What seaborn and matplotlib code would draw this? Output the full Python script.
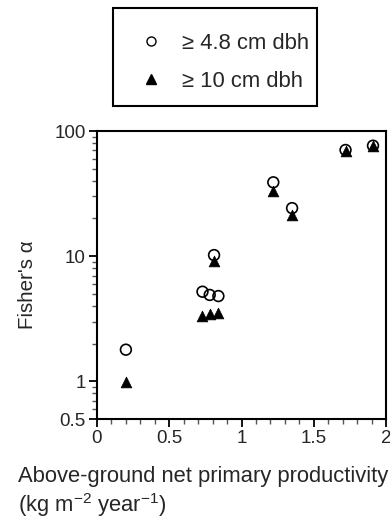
import matplotlib
matplotlib.use("Agg")
import matplotlib.pyplot as plt
from matplotlib.lines import Line2D
from matplotlib.patches import Rectangle
from matplotlib.ticker import NullFormatter
import seaborn as sns
import pandas as pd

# above-ground NPP (kg m-2 yr-1) and Fisher's alpha
npp = [0.20, 0.73, 0.78, 0.84, 0.81, 1.22, 1.35, 1.72, 1.91]
alpha_48 = [1.79, 5.2, 4.9, 4.8, 10.2, 38.9, 24.2, 70.5, 76.3]
alpha_10 = [0.98, 3.35, 3.48, 3.54, 9.1, 33.0, 21.5, 69.5, 75.5]
series_labels = ["\u2265 4.8 cm dbh", "\u2265 10 cm dbh"]

df = pd.DataFrame({
    "npp": npp * 2,
    "alpha": alpha_48 + alpha_10,
    "size": [series_labels[0]] * len(npp) + [series_labels[1]] * len(npp),
})

sns.set_style("ticks")
plt.rcParams["font.family"] = ["Liberation Sans", "DejaVu Sans"]
plt.rcParams["mathtext.fontset"] = "custom"
plt.rcParams["mathtext.rm"] = "Liberation Sans"
plt.rcParams["mathtext.it"] = "Liberation Sans"

fig = plt.figure(figsize=(3.9, 5.21), dpi=100)
ax = fig.add_axes([97 / 390, 1 - 419 / 521, 289 / 390, 288 / 521])

sns.scatterplot(data=df[df["size"] == series_labels[0]], x="npp", y="alpha",
                marker="o", s=60, facecolor="none", edgecolor="black",
                linewidth=1.2, ax=ax, legend=False, zorder=3)
sns.scatterplot(data=df[df["size"] == series_labels[1]], x="npp", y="alpha",
                marker="^", s=60, color="black", edgecolor="black",
                linewidth=0.5, ax=ax, legend=False, zorder=4)

ax.set_yscale("log")
ax.set_ylim(0.5, 100)
ax.set_xlim(0, 2)
ax.set_yticks([0.5, 1, 10, 100])
ax.set_yticklabels(["0.5", "1", "10", "100"])
minor_y = [0.6, 0.7, 0.8, 0.9] + [k for k in range(2, 10)] + [10 * k for k in range(2, 10)]
ax.set_yticks(minor_y, minor=True)
ax.yaxis.set_minor_formatter(NullFormatter())
ax.set_xticks([0, 0.5, 1, 1.5, 2])
ax.set_xticklabels(["0", "0.5", "1", "1.5", "2"])
ax.set_xticks([i / 10 for i in range(21)], minor=True)
ax.tick_params(axis="both", which="both", bottom=True, left=True,
               top=False, right=False, direction="out")
ax.tick_params(axis="both", which="major", labelsize=13.5, length=6, width=1.3,
               color="black", pad=2)
ax.tick_params(axis="both", which="minor", length=3.5, width=1.0,
               color="#555555")
for sp in ax.spines.values():
    sp.set_linewidth(1.5)
    sp.set_color("black")

ax.set_xlabel("")
ax.set_ylabel("Fisher's \u03b1", fontsize=14.8)
ax.yaxis.set_label_coords(-0.207, 0.465)

fig.text(18 / 390, 1 - 466 / 521,
         "Above-ground net primary productivity\n(kg m$^{-2}$ year$^{-1}$)",
         ha="left", va="top", fontsize=15.8, linespacing=1.2)

# legend box drawn separately so its padding can match the original
fig.patches.append(Rectangle((113 / 390, 1 - 106 / 521), 204 / 390, 98 / 521,
                             transform=fig.transFigure, fill=False,
                             edgecolor="black", linewidth=1.5))
handles = [
    Line2D([], [], marker="o", linestyle="none", markersize=6.5,
           markerfacecolor="none", markeredgecolor="black", markeredgewidth=1.0),
    Line2D([], [], marker="^", linestyle="none", markersize=6.5,
           color="black"),
]
leg = fig.legend(handles, series_labels, loc="upper left",
                 bbox_to_anchor=(129 / 390, 1 - 33 / 521),
                 frameon=False, fontsize=15.8,
                 borderpad=0, labelspacing=0.78, handlelength=2.0,
                 handletextpad=0.4, borderaxespad=0)

fig.savefig("out.png", dpi=100)
